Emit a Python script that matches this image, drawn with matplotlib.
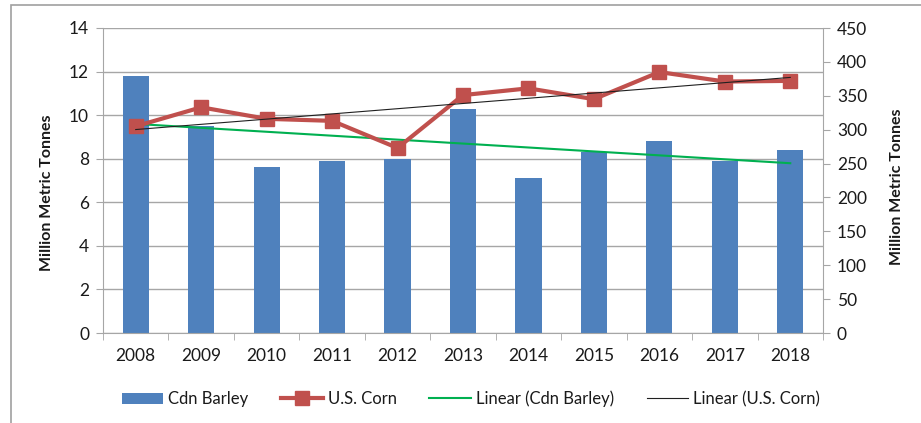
import matplotlib
matplotlib.use("Agg")
import matplotlib.pyplot as plt
import matplotlib.patches as patches
import numpy as np

plt.rcParams['font.family'] = ['Lato', 'DejaVu Sans']

years = ['2008', '2009', '2010', '2011', '2012', '2013',
         '2014', '2015', '2016', '2017', '2018']
# Canadian barley production, million metric tonnes (left axis)
cdn_barley = [11.8, 9.5, 7.63, 7.88, 8.0, 10.3, 7.1, 8.32, 8.82, 7.9, 8.4]
# U.S. corn production, million metric tonnes (right axis)
us_corn = [305, 333, 316, 313, 273, 351, 361, 345, 385, 371, 372]

BAR_COLOR = '#4f81bd'
CORN_COLOR = '#c0504d'
GREEN = '#00b050'
GRID = '#a6a6a6'
TXT = '#1a1a1a'
FS = 12.5

fig = plt.figure(figsize=(9.21, 4.23), dpi=100)
W, H = 921, 423
ax = fig.add_axes([103 / W, (H - 333) / H, 720 / W, 305 / H])
ax2 = ax.twinx()

x = np.arange(len(years))

# bars + linear trend on the left axis
ax.bar(x, cdn_barley, width=0.4, color=BAR_COLOR, zorder=2, label='Cdn Barley')
kb = np.polyfit(x, cdn_barley, 1)
ax.plot(x, np.polyval(kb, x), color=GREEN, lw=1.5, zorder=3,
        label='Linear (Cdn Barley)')

# corn + linear trend on the right axis
ax2.plot(x, us_corn, color=CORN_COLOR, lw=3, marker='s', ms=9.5,
         zorder=3, label='U.S. Corn')
kc = np.polyfit(x, us_corn, 1)
ax2.plot(x, np.polyval(kc, x), color='#202020', lw=0.8, zorder=4,
         label='Linear (U.S. Corn)')

ax.set_xlim(-0.5, len(years) - 0.5)
ax.set_ylim(0, 14)
ax.set_yticks(np.arange(0, 15, 2))
ax2.set_ylim(0, 450)
ax2.set_yticks(np.arange(0, 451, 50))

ax.set_xticks(x)
ax.set_xticklabels(years)
ax.set_xticks(np.arange(-0.5, len(years), 1), minor=True)
ax.tick_params(axis='x', which='major', length=0, pad=11, labelsize=FS, labelcolor=TXT)
ax.tick_params(axis='x', which='minor', length=5, color=GRID, direction='out')
ax.tick_params(axis='y', length=5, color=GRID, labelsize=FS, labelcolor=TXT, pad=5)
ax2.tick_params(axis='y', length=5, color=GRID, labelsize=FS, labelcolor=TXT, pad=5)

ax.yaxis.grid(True, color=GRID, lw=1)
ax.set_axisbelow(True)
for a in (ax, ax2):
    for s in a.spines.values():
        s.set_color(GRID)
    a.spines['top'].set_visible(False)
ax.spines['right'].set_visible(False)
ax2.spines['left'].set_visible(False)
ax2.spines['bottom'].set_visible(False)

ax.set_ylabel('Million Metric Tonnes', fontsize=11.5, fontweight='bold', color=TXT)
ax2.set_ylabel('Million Metric Tonnes', fontsize=11.5, fontweight='bold', color=TXT)
ax.yaxis.set_label_coords(-49 / 720, 0.46)
ax2.yaxis.set_label_coords(1 + 67 / 720, 0.48)

# chart area frame
fig.add_artist(patches.Rectangle((11 / W, -0.1), 1.2, (H - 5) / H + 0.1,
                                 transform=fig.transFigure, fill=False,
                                 edgecolor='#a0a0a0', lw=1.2))

h1, l1 = ax.get_legend_handles_labels()
h2, l2 = ax2.get_legend_handles_labels()
handles = [h1[1], h2[0], h1[0], h2[1]]
labels = [l1[1], l2[0], l1[0], l2[1]]
fig.legend(handles, labels, loc='center', bbox_to_anchor=(471 / W, (H - 399) / H),
           ncol=4, frameon=False, fontsize=12, handlelength=2.5,
           columnspacing=1.95, handletextpad=0.3, labelcolor=TXT)

fig.savefig('out.png', dpi=100)
